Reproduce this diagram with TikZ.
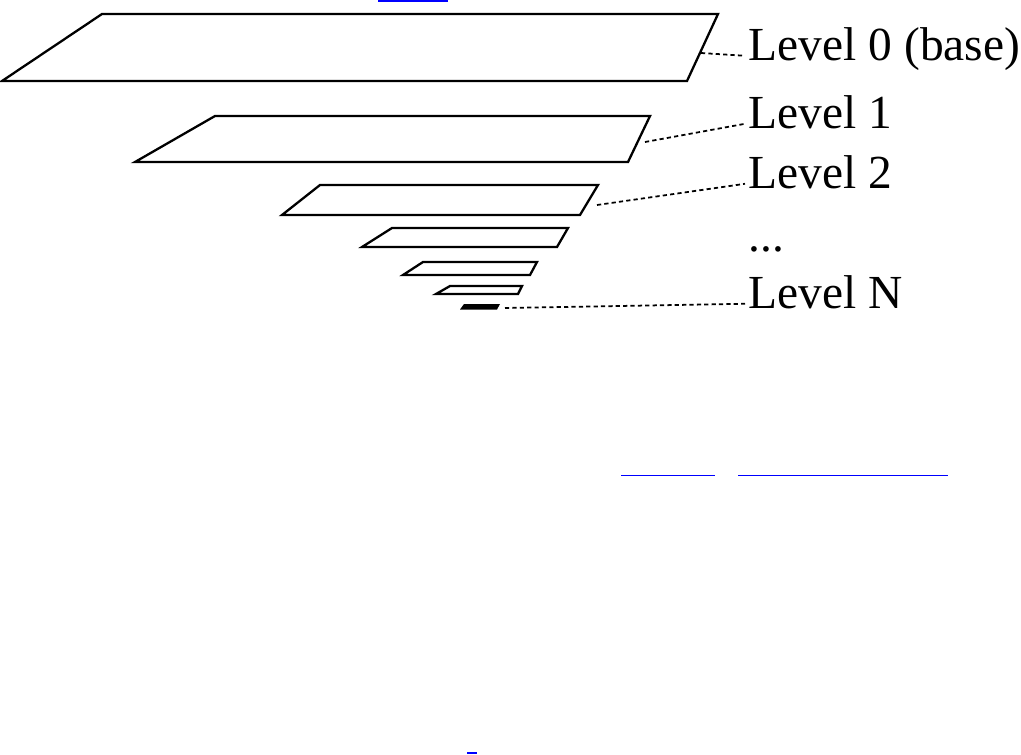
\documentclass[tikz,border=0pt]{standalone}
\usepackage{fontspec}
\setmainfont{Liberation Serif}

\begin{document}
\begin{tikzpicture}[x=0.02cm, y=-0.02cm,
    layer/.style={line width=1.3pt, line join=miter},
    leader/.style={line width=1pt, dash pattern=on 2.4pt off 1.8pt},
    lbl/.style={anchor=base west, inner ysep=0pt, inner xsep=2pt,
      text height=0.7em, text depth=0.22em, font=\fontsize{27}{31}\selectfont},
    link/.style={blue, line width=1.1pt}]

  \useasboundingbox (0,0) rectangle (1021,754);

  % the pyramid, base on top
  \draw[layer] (2,81) -- (102,14) -- (718,14) -- (687,81) -- cycle;
  \coordinate (p0) at (701,53);

  \draw[layer] (135,162) -- (215,116) -- (650,116) -- (628,162) -- cycle;
  \coordinate (p1) at (645,142);

  \draw[layer] (282,215) -- (320,185) -- (598,185) -- (580,215) -- cycle;
  \coordinate (p2) at (597,205);

  \draw[layer] (362,247) -- (392,228) -- (568,228) -- (557,247) -- cycle;

  \draw[layer] (403,275) -- (423,262) -- (537,262) -- (530,275) -- cycle;

  \draw[layer] (436,294) -- (450,286) -- (522,286) -- (518,294) -- cycle;

  \fill (460,309.5) -- (464,304) -- (500,304) -- (497,309.5) -- cycle;
  \coordinate (pN) at (505,308);

  % labels
  \node[lbl] (lbl0) at (745,60) {Level 0 (base)};
  \node[lbl] (lbl1) at (745,128) {Level 1};
  \node[lbl] (lbl2) at (745,188) {Level 2};
  \node[lbl] (dots) at (745,251) {...};
  \node[lbl] (lblN) at (745,308) {Level N};

  \draw[leader] (p0) -- (lbl0.west);
  \draw[leader] (p1) -- (lbl1.west);
  \draw[leader] (p2) -- (lbl2.west);
  \draw[leader] (pN) -- (lblN.west);

  % link underlines
  \draw[link] (378,0.6) -- (448,0.6);
  \draw[link] (621,475.5) -- (715,475.5);
  \draw[link] (738,475.5) -- (948,475.5);
  \draw[link] (467,753.2) -- (477,753.2);

\end{tikzpicture}
\end{document}
